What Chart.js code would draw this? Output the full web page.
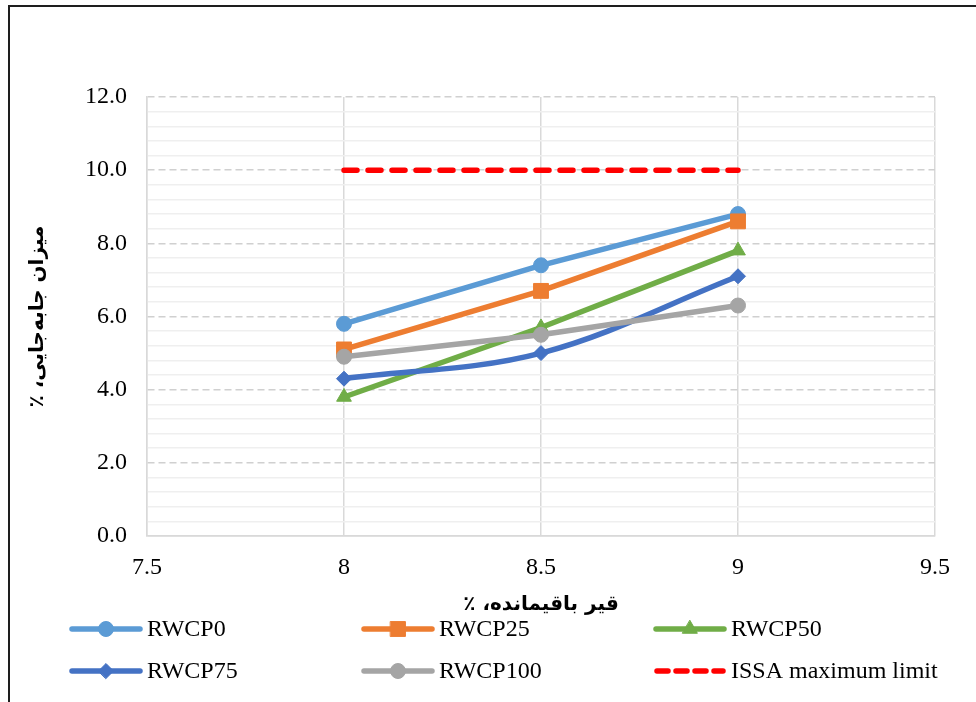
<!DOCTYPE html>
<html>
<head>
<meta charset="utf-8">
<script src="https://cdn.jsdelivr.net/npm/chart.js@4/dist/chart.umd.min.js"></script>
<style>
  html, body { margin: 0; padding: 0; background: #ffffff; }
  #wrap { width: 976px; height: 702px; position: relative; }
</style>
</head>
<body>
<div id="wrap"><canvas id="chart" width="976" height="702"></canvas></div>
<script>
// Residual binder content (%) on the x axis
const binderContent = [8, 8.5, 9];

// Displacement (%) for each mix
const rwcp0   = [5.8, 7.4, 8.8];
const rwcp25  = [5.1, 6.7, 8.6];
const rwcp50  = [3.8, 5.7, 7.8];
const rwcp75  = [4.3, 5.0, 7.1];
const rwcp100 = [4.9, 5.5, 6.3];
const issaLimit = [10, 10, 10];

const seriesNames = ['RWCP0', 'RWCP25', 'RWCP50', 'RWCP75', 'RWCP100', 'ISSA maximum limit'];

const xTickLabels = ['7.5', '8', '8.5', '9', '9.5'];
const yTickLabels = ['0.0', '2.0', '4.0', '6.0', '8.0', '10.0', '12.0'];

const xTitle = '\u200Fقیر باقیمانده، ٪\u200F';
const yTitle = '\u200Fمیزان جابه\u200Cجایی، ٪\u200F';

const serif = "'Liberation Serif', 'Times New Roman', serif";
const arabicFont = "'DejaVu Sans', 'Noto Sans', sans-serif";

function toPoints(values) {
  return values.map((v, i) => ({ x: binderContent[i], y: v }));
}

const styles = [
  { color: '#5B9BD5', point: 'circle',   radius: 7.5 },
  { color: '#ED7D31', point: 'rect',     radius: 10.5 },
  { color: '#70AD47', point: 'triangle', radius: 8.5 },
  { color: '#4472C4', point: 'rectRot',  radius: 7.5, tension: 0.35 },
  { color: '#A5A5A5', point: 'circle',   radius: 7.5 },
];
const seriesValues = [rwcp0, rwcp25, rwcp50, rwcp75, rwcp100];

const datasets = seriesValues.map((vals, i) => ({
  label: seriesNames[i],
  data: toPoints(vals),
  borderColor: styles[i].color,
  backgroundColor: styles[i].color,
  borderWidth: 5.5,
  pointStyle: styles[i].point,
  pointRadius: styles[i].radius,
  pointBorderWidth: 1,
  pointBorderColor: styles[i].color,
  pointBackgroundColor: styles[i].color,
  tension: styles[i].tension || 0,
  order: 10 - i,
}));

datasets.push({
  label: seriesNames[5],
  data: toPoints(issaLimit),
  borderColor: '#FF0000',
  backgroundColor: '#FF0000',
  borderWidth: 5.5,
  borderDash: [13, 11],
  borderCapStyle: 'round',
  pointRadius: 0,
  tension: 0,
  order: 0,
});

// Outer frame of the chart box
const framePlugin = {
  id: 'frame',
  beforeDraw(chart) {
    const ctx = chart.ctx;
    ctx.save();
    ctx.fillStyle = '#ffffff';
    ctx.fillRect(0, 0, chart.width, chart.height);
    ctx.strokeStyle = '#1e1e1e';
    ctx.lineWidth = 2;
    ctx.beginPath();
    ctx.moveTo(9, chart.height);
    ctx.lineTo(9, 6);
    ctx.lineTo(chart.width, 6);
    ctx.stroke();
    ctx.restore();
  }
};

function drawMarker(ctx, style, radius, x, y, color) {
  ctx.fillStyle = color;
  ctx.strokeStyle = color;
  ctx.lineWidth = 1;
  if (Chart.helpers && Chart.helpers.drawPoint) {
    Chart.helpers.drawPoint(ctx, { pointStyle: style, radius: radius, rotation: 0, borderWidth: 1 }, x, y);
  } else {
    ctx.beginPath();
    ctx.arc(x, y, radius, 0, Math.PI * 2);
    ctx.fill();
  }
}

// Three-column legend below the x-axis title
const gridLegendPlugin = {
  id: 'gridLegend',
  afterDraw(chart) {
    const ctx = chart.ctx;
    const cols = [70, 362, 654];
    const rows = [629, 671];
    const lineLen = 72;
    ctx.save();
    chart.data.datasets.forEach((ds, i) => {
      const x0 = cols[i % 3];
      const y = rows[Math.floor(i / 3)];
      ctx.save();
      ctx.strokeStyle = ds.borderColor;
      ctx.lineWidth = 5.5;
      if (ds.borderDash) {
        ctx.setLineDash([11, 8]);
        ctx.lineCap = 'round';
        ctx.beginPath();
        ctx.moveTo(x0 + 3, y);
        ctx.lineTo(x0 + lineLen - 3, y);
        ctx.stroke();
      } else {
        ctx.lineCap = 'round';
        ctx.beginPath();
        ctx.moveTo(x0 + 2, y);
        ctx.lineTo(x0 + lineLen - 2, y);
        ctx.stroke();
        drawMarker(ctx, ds.pointStyle, ds.pointRadius, x0 + lineLen / 2, y, ds.borderColor);
      }
      ctx.restore();
      ctx.fillStyle = '#000000';
      ctx.font = '24px ' + serif;
      ctx.textAlign = 'left';
      ctx.textBaseline = 'middle';
      ctx.fillText(ds.label, x0 + 77, y + 1);
    });
    ctx.restore();
  }
};

function isMajor(v) {
  return Math.abs(v / 2 - Math.round(v / 2)) < 1e-6;
}

new Chart(document.getElementById('chart'), {
  type: 'line',
  data: { datasets: datasets },
  plugins: [framePlugin, gridLegendPlugin],
  options: {
    responsive: false,
    animation: false,
    events: [],
    layout: { padding: { left: 10, top: 97, right: 41, bottom: 85 } },
    plugins: {
      legend: { display: false },
      tooltip: { enabled: false },
    },
    scales: {
      x: {
        type: 'linear',
        min: 7.5,
        max: 9.5,
        ticks: {
          stepSize: 0.5,
          autoSkip: false,
          maxRotation: 0,
          padding: 17,
          color: '#000000',
          font: { family: serif, size: 24 },
          callback: (v) => xTickLabels[Math.round((v - 7.5) / 0.5)] ?? '',
        },
        grid: { color: '#D9D9D9', lineWidth: 1.5, drawTicks: false },
        border: { color: '#D9D9D9', width: 1.5 },
        title: {
          display: true,
          text: xTitle,
          color: '#000000',
          font: { family: arabicFont, size: 20, weight: 'bold' },
          padding: { top: 0, bottom: 0 },
        },
        afterFit: (s) => { s.height = 81; },
      },
      y: {
        type: 'linear',
        min: 0,
        max: 12,
        ticks: {
          stepSize: 0.4,
          autoSkip: false,
          padding: 20,
          color: '#000000',
          font: { family: serif, size: 24 },
          callback: (v) => isMajor(v) ? yTickLabels[Math.round(v / 2)] : '',
        },
        grid: {
          drawTicks: false,
          lineWidth: 1.5,
          color: (c) => (c.tick && isMajor(c.tick.value)) ? '#D0D0D0' : '#EFEFEF',
        },
        border: {
          color: '#D9D9D9',
          width: 1.5,
          dash: (c) => (c.tick && isMajor(c.tick.value) && c.tick.value > 0) ? [7, 4] : [],
        },
        title: {
          display: true,
          text: yTitle,
          color: '#000000',
          font: { family: arabicFont, size: 20, weight: 'bold' },
          padding: { top: 16, bottom: 0 },
        },
        afterFit: (s) => { s.width = 137; },
      },
    },
  },
});
</script>
</body>
</html>
